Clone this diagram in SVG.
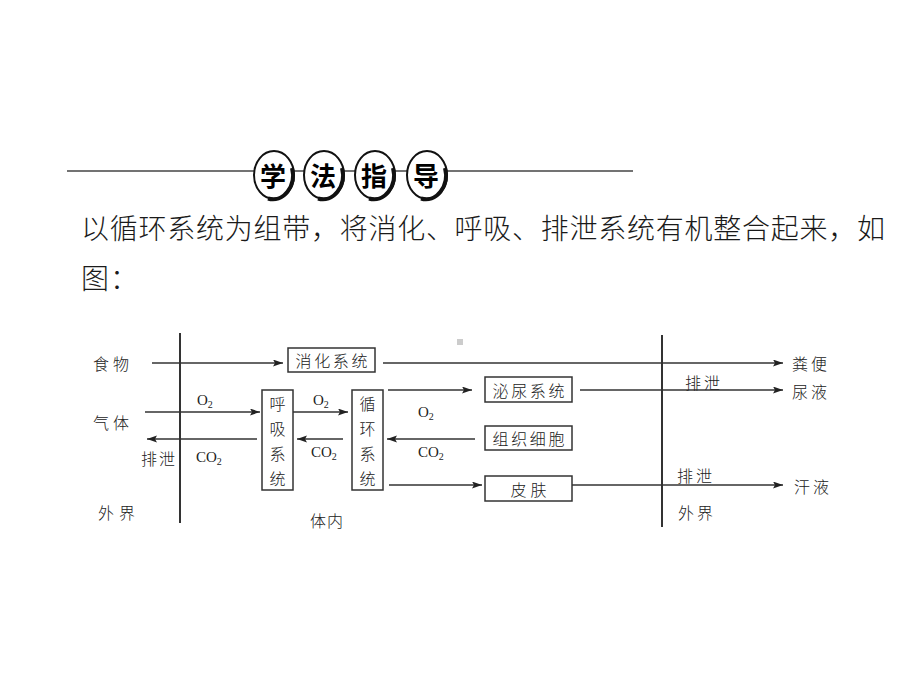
<svg xmlns="http://www.w3.org/2000/svg" width="920" height="690" viewBox="0 0 920 690">
<style>
.hdr{fill:#000;font-family:"Noto Sans CJK SC",sans-serif;font-size:26px;font-weight:bold;text-anchor:middle;dominant-baseline:central}
.para{fill:#1a1a1a;font-family:"Noto Sans CJK SC",sans-serif;font-size:28px;font-weight:300}
.t{fill:#222;font-family:"Noto Sans CJK SC",sans-serif;font-size:16px;font-weight:300;dominant-baseline:central}
.tc{fill:#222;font-family:"Noto Sans CJK SC",sans-serif;font-size:16px;font-weight:300;dominant-baseline:central;text-anchor:middle}
.f{fill:#222;font-family:"Liberation Serif",serif;font-size:15px;dominant-baseline:central}
.sub{font-size:10px}
.box{fill:#fff;stroke:#333;stroke-width:1.5}
.ln{stroke:#333;stroke-width:1.5;fill:none}
.vl{stroke:#333;stroke-width:2;fill:none}
.circ{fill:#fff;stroke:#111;stroke-width:2}
.shad{fill:none;stroke:#111;stroke-width:4}
</style>
<defs>
<marker id="ah" markerUnits="userSpaceOnUse" markerWidth="11" markerHeight="8" refX="10" refY="3.5" orient="auto">
<path d="M0,0 L10,3.5 L0,7 L2,3.5 z" fill="#222"/>
</marker>
</defs>
<rect width="920" height="690" fill="#fff"/>

<g id="header">
<line x1="67" y1="171" x2="633" y2="171" stroke="#444" stroke-width="1.5"/>
<g id="h1"><ellipse cx="274" cy="175" rx="20" ry="24" class="circ"/><path d="M292,168 A20,24 0 0 1 268,198.5" class="shad"/><text x="273" y="174" class="hdr">学</text></g>
<g id="h2"><ellipse cx="324" cy="175" rx="20" ry="24" class="circ"/><path d="M342,168 A20,24 0 0 1 318,198.5" class="shad"/><text x="323" y="174" class="hdr">法</text></g>
<g id="h3"><ellipse cx="375" cy="175" rx="20" ry="24" class="circ"/><path d="M393,168 A20,24 0 0 1 369,198.5" class="shad"/><text x="374" y="174" class="hdr">指</text></g>
<g id="h4"><ellipse cx="427" cy="175" rx="20" ry="24" class="circ"/><path d="M445,168 A20,24 0 0 1 421,198.5" class="shad"/><text x="426" y="174" class="hdr">导</text></g>
</g>

<g id="paragraph">
<text x="81" y="239" class="para" textLength="804" lengthAdjust="spacing">以循环系统为组带，将消化、呼吸、排泄系统有机整合起来，如</text>
<text x="81" y="289" class="para" textLength="57" lengthAdjust="spacing">图：</text>
</g>

<rect x="457" y="339" width="6" height="6" fill="#ccc"/>

<g id="connectors">
<line x1="180" y1="333" x2="180" y2="523" class="vl"/>
<line x1="662" y1="335" x2="662" y2="527" class="vl"/>
<line x1="152" y1="363" x2="283" y2="363" class="ln" marker-end="url(#ah)"/>
<line x1="383" y1="363" x2="783" y2="363" class="ln" marker-end="url(#ah)"/>
<line x1="145" y1="412" x2="260" y2="412" class="ln" marker-end="url(#ah)"/>
<line x1="257" y1="439" x2="147" y2="439" class="ln" marker-end="url(#ah)"/>
<line x1="293" y1="412" x2="348" y2="412" class="ln" marker-end="url(#ah)"/>
<line x1="343" y1="439" x2="297" y2="439" class="ln" marker-end="url(#ah)"/>
<line x1="388" y1="390" x2="472" y2="390" class="ln" marker-end="url(#ah)"/>
<line x1="475" y1="439" x2="387" y2="439" class="ln" marker-end="url(#ah)"/>
<line x1="389" y1="485" x2="482" y2="485" class="ln" marker-end="url(#ah)"/>
<line x1="580" y1="390" x2="783" y2="390" class="ln" marker-end="url(#ah)"/>
<line x1="572" y1="485" x2="783" y2="485" class="ln" marker-end="url(#ah)"/>
</g>

<g id="xiaohua"><rect x="288" y="348" width="87" height="24" class="box"/><text x="331.5" y="360" class="tc" textLength="72" lengthAdjust="spacing">消化系统</text></g>
<g id="huxi"><rect x="262" y="390" width="31" height="100" class="box"/>
<text x="277.5" y="403" class="tc">呼</text><text x="277.5" y="428" class="tc">吸</text><text x="277.5" y="453" class="tc">系</text><text x="277.5" y="478" class="tc">统</text></g>
<g id="xunhuan"><rect x="352" y="390" width="31" height="100" class="box"/>
<text x="367.5" y="403" class="tc">循</text><text x="367.5" y="428" class="tc">环</text><text x="367.5" y="453" class="tc">系</text><text x="367.5" y="478" class="tc">统</text></g>
<g id="miniao"><rect x="485" y="377" width="87" height="25" class="box"/><text x="528.5" y="389.5" class="tc" textLength="72" lengthAdjust="spacing">泌尿系统</text></g>
<g id="zuzhi"><rect x="485" y="426" width="87" height="24" class="box"/><text x="528.5" y="438" class="tc" textLength="72" lengthAdjust="spacing">组织细胞</text></g>
<g id="pifu"><rect x="485" y="476" width="87" height="25" class="box"/><text x="528.5" y="488.5" class="tc" textLength="36" lengthAdjust="spacing">皮肤</text></g>

<g id="labels">
<text x="93" y="363" class="t" textLength="36" lengthAdjust="spacing">食物</text>
<text x="93" y="422" class="t" textLength="36" lengthAdjust="spacing">气体</text>
<text x="141" y="458" class="t" textLength="34" lengthAdjust="spacing">排泄</text>
<text x="98" y="512" class="t" textLength="37" lengthAdjust="spacing">外界</text>
<text x="310" y="520" class="t" textLength="33" lengthAdjust="spacing">体内</text>
<text x="792" y="363" class="t" textLength="35" lengthAdjust="spacing">粪便</text>
<text x="792" y="391" class="t" textLength="35" lengthAdjust="spacing">尿液</text>
<text x="794" y="486" class="t" textLength="35" lengthAdjust="spacing">汗液</text>
<text x="685" y="382" class="t" textLength="35" lengthAdjust="spacing">排泄</text>
<text x="677" y="475" class="t" textLength="35" lengthAdjust="spacing">排泄</text>
<text x="678" y="512" class="t" textLength="35" lengthAdjust="spacing">外界</text>
<text x="197" y="400" class="f">O<tspan class="sub" dy="4">2</tspan></text>
<text x="313" y="400" class="f">O<tspan class="sub" dy="4">2</tspan></text>
<text x="418" y="412" class="f">O<tspan class="sub" dy="4">2</tspan></text>
<text x="196" y="457" class="f">CO<tspan class="sub" dy="4">2</tspan></text>
<text x="311" y="452" class="f">CO<tspan class="sub" dy="4">2</tspan></text>
<text x="418" y="452" class="f">CO<tspan class="sub" dy="4">2</tspan></text>
</g>
</svg>
